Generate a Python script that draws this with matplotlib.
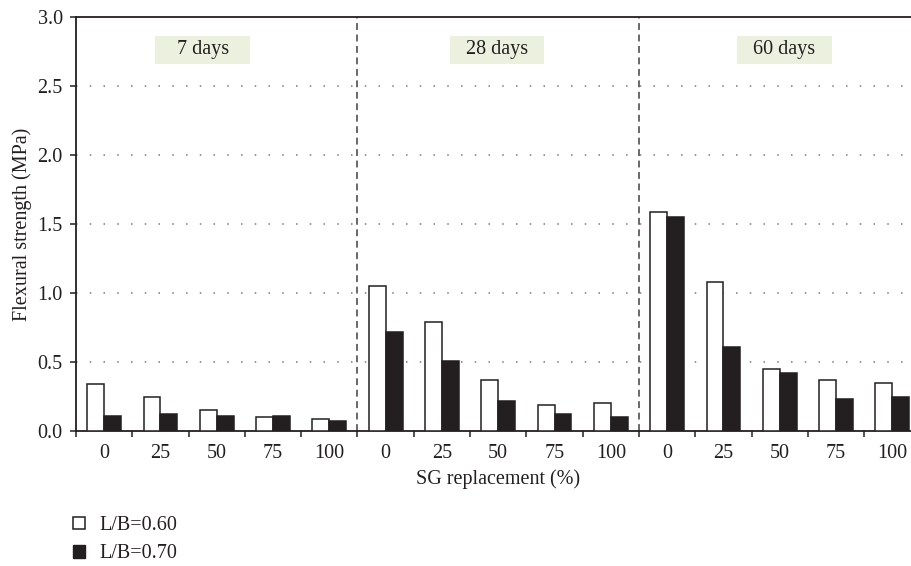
import numpy as np
import matplotlib.pyplot as plt
from matplotlib.patches import Patch, Rectangle

plt.rcParams['font.family'] = ['Liberation Serif', 'DejaVu Serif']

periods = ['7 days', '28 days', '60 days']
sg_levels = ['0', '25', '50', '75', '100']
lb060 = [0.34, 0.25, 0.15, 0.10, 0.09,
         1.05, 0.79, 0.37, 0.19, 0.20,
         1.59, 1.08, 0.45, 0.37, 0.35]
lb070 = [0.11, 0.12, 0.11, 0.11, 0.07,
         0.72, 0.51, 0.22, 0.12, 0.10,
         1.55, 0.61, 0.42, 0.23, 0.25]

ink = '#231f20'
fs = 14.5
fig = plt.figure(figsize=(9.12, 5.66), dpi=100)
ax = fig.add_axes([0.0833, 0.2385, 0.926, 0.7315])

x = np.arange(len(lb060))
w = 0.3
ax.bar(x - w / 2, lb060, w, facecolor='white', edgecolor=ink, linewidth=1.1, zorder=3)
ax.bar(x + w / 2, lb070, w, facecolor=ink, edgecolor=ink, linewidth=1.1, zorder=3)

ax.set_xlim(-0.5, 14.5)
ax.set_ylim(0, 3.0)
yt = np.arange(0, 3.01, 0.5)
ax.set_yticks(yt)
ax.set_yticklabels([f'{v:.1f}' for v in yt])
ax.set_xticks(x)
ax.set_xticklabels(sg_levels * 3)
ax.set_xticks(np.arange(-0.5, 15, 1), minor=True)
ax.tick_params(axis='x', which='major', length=0, pad=9, labelsize=fs, colors=ink)
ax.tick_params(axis='x', which='minor', length=4.5, width=1.1, direction='out', color=ink)
ax.tick_params(axis='y', length=4.5, width=1.1, direction='out', pad=5, labelsize=fs, colors=ink)

for yv in [0.5, 1.0, 1.5, 2.0, 2.5]:
    ax.axhline(yv, color='#7a7a7a', linestyle=(0, (1, 8)), linewidth=1.1, zorder=1)
for xv in [4.5, 9.5]:
    ax.axvline(xv, color='#404040', linestyle=(0, (4.5, 3)), linewidth=1.1, zorder=2)

for s in ['left', 'bottom', 'top']:
    ax.spines[s].set_color(ink)
    ax.spines[s].set_linewidth(1.3)
ax.spines['right'].set_visible(False)

# period labels on pale green boxes
label_x = [1.75, 6.98, 12.08]
for lx, name in zip(label_x, periods):
    ax.add_patch(Rectangle((lx - 0.84, 2.66), 1.68, 0.205, facecolor='#ebf1de',
                           edgecolor='none', zorder=2))
    ax.text(lx, 2.765, name, ha='center', va='center', fontsize=fs, color=ink, zorder=4)

ax.set_ylabel('Flexural strength (MPa)', fontsize=fs, color=ink, labelpad=4)
ax.set_xlabel('SG replacement (%)', fontsize=fs, color=ink, labelpad=5)

handles = [Patch(facecolor='white', edgecolor=ink, linewidth=1.1),
           Patch(facecolor=ink, edgecolor=ink)]
fig.legend(handles, ['L/B=0.60', 'L/B=0.70'], loc='upper left',
           bbox_to_anchor=(0.080, 0.088), frameon=False, fontsize=fs,
           handlelength=0.6, handleheight=0.6, handletextpad=0.7,
           labelspacing=0.45, borderaxespad=0, borderpad=0, labelcolor=ink)

fig.savefig('out.png', dpi=100)
